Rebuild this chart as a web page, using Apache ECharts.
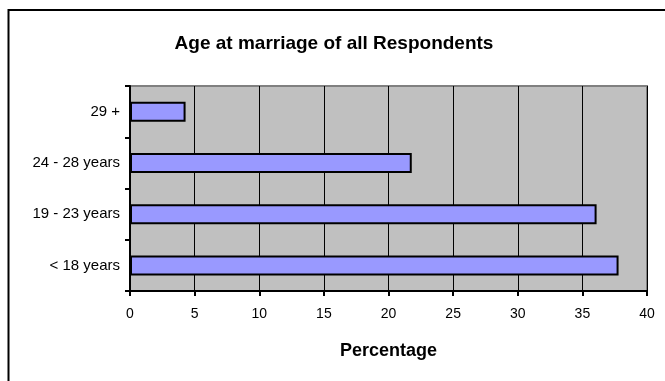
<!DOCTYPE html>
<html>
<head>
<meta charset="utf-8">
<script src="https://cdn.jsdelivr.net/npm/echarts@6/dist/echarts.min.js"></script>
<style>
  html, body { margin: 0; padding: 0; background: #ffffff; }
  #chart { width: 665px; height: 381px; }
</style>
</head>
<body>
<div id="chart"></div>
<script>
// Age groups, listed bottom to top on the category axis
const ageGroups = ['< 18 years', '19 - 23 years', '24 - 28 years', '29 +'];
// Share of respondents in each age group (%)
const percentages = [37.8, 36.1, 21.8, 4.3];
// Percentage axis ticks
const xTicks = [0, 5, 10, 15, 20, 25, 30, 35, 40];

const FONT = '"Liberation Sans", Arial, sans-serif';

const chart = echarts.init(document.getElementById('chart'), null, { renderer: 'canvas' });

chart.setOption({
  backgroundColor: '#ffffff',
  animation: false,
  title: {
    text: 'Age at marriage of all Respondents',
    left: 329,
    top: 29,
    textAlign: 'center',
    textStyle: { fontFamily: FONT, fontSize: 19, fontWeight: 'bold', color: '#000000' }
  },
  graphic: [{
    type: 'rect',
    shape: { x: 8.5, y: 10, width: 720, height: 420 },
    style: { fill: null, stroke: '#000000', lineWidth: 2 },
    silent: true,
    z: 100
  }],
  grid: {
    left: 130,
    right: 18,
    top: 86,
    bottom: 90,
    show: true,
    backgroundColor: '#c0c0c0',
    borderColor: '#808080',
    borderWidth: 2
  },
  xAxis: {
    type: 'value',
    min: xTicks[0],
    max: xTicks[xTicks.length - 1],
    interval: xTicks[1] - xTicks[0],
    name: 'Percentage',
    nameLocation: 'middle',
    nameGap: 51,
    nameTextStyle: { fontFamily: FONT, fontSize: 18, fontWeight: 'bold', color: '#000000' },
    axisLine: { show: true, lineStyle: { color: '#000000', width: 2 } },
    axisTick: { show: true, length: 5, lineStyle: { color: '#000000', width: 2 } },
    axisLabel: { fontFamily: FONT, fontSize: 14, color: '#000000', margin: 16 },
    splitLine: { show: true, lineStyle: { color: '#000000', width: 1 } }
  },
  yAxis: {
    type: 'category',
    data: ageGroups,
    axisLine: { show: true, lineStyle: { color: '#000000', width: 2 } },
    axisTick: { show: true, length: 5, lineStyle: { color: '#000000', width: 2 } },
    axisLabel: { fontFamily: FONT, fontSize: 15, color: '#000000', margin: 10 },
    splitLine: { show: false }
  },
  series: [{
    type: 'bar',
    data: percentages,
    barWidth: 20,
    itemStyle: { color: '#9999ff', borderColor: '#000000', borderWidth: 2 },
    z: 3
  }]
});
</script>
</body>
</html>
